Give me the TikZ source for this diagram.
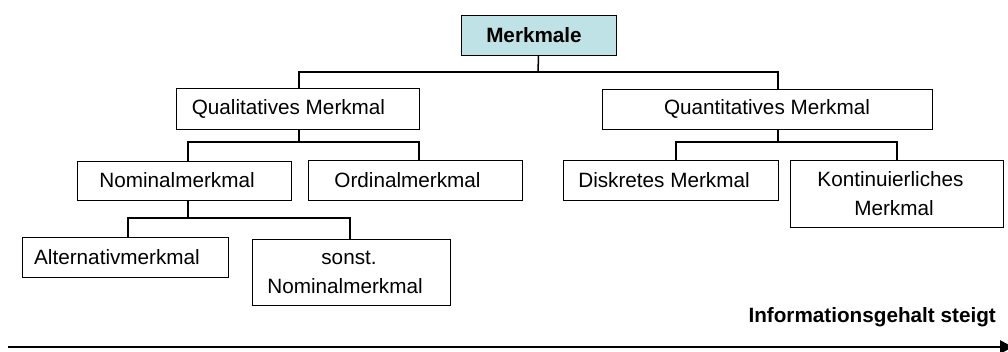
\documentclass[tikz,border=0pt]{standalone}
\usepackage{fontspec}
\setmainfont{Liberation Sans}
\usetikzlibrary{arrows.meta}
\definecolor{headfill}{RGB}{190,226,229}
% moves a centred line of text to the left by half the given amount
\newcommand{\nudgeleft}[1]{\hspace*{-#1pt}}
\begin{document}
\begin{tikzpicture}[x=1pt,y=-1pt,
  box/.style={draw=black, line width=0.9pt, fill=white, inner sep=0pt,
    font=\fontsize{20.7}{29}\selectfont, align=center},
  link/.style={draw=black, line width=1.5pt},
  axis/.style={draw=black, line width=2.6pt, -{Triangle[length=13pt,width=13pt]}}]
\useasboundingbox (0,0) rectangle (1008,351);

% boxes
\node[box, fill=headfill, minimum width=155pt, minimum height=40pt,
  font=\fontsize{20.7}{29}\selectfont\bfseries] (merk) at (538.5,35) {\nudgeleft{9}Merkmale};
\node[box, minimum width=243pt, minimum height=41pt] (qual) at (297.5,108.5) {\nudgeleft{18}Qualitatives Merkmal};
\node[box, minimum width=330pt, minimum height=40pt] (quant) at (767,109) {Quantitatives Merkmal};
\node[box, minimum width=214pt, minimum height=39pt] (nom) at (184,180.5) {\nudgeleft{14}Nominalmerkmal};
\node[box, minimum width=214pt, minimum height=40pt] (ord) at (415,180) {\nudgeleft{15}Ordinalmerkmal};
\node[box, minimum width=215pt, minimum height=40pt] (disk) at (670.5,180) {\nudgeleft{13}Diskretes Merkmal};
\node[box, minimum width=213pt, minimum height=67pt] (kont) at (896.5,193.5) {\nudgeleft{12}Kontinuierliches\\\nudgeleft{5}Merkmal};
\node[box, minimum width=206pt, minimum height=40pt] (alt) at (125,257) {\nudgeleft{16}Alternativmerkmal};
\node[box, minimum width=198pt, minimum height=66pt] (sonst) at (351,272) {\nudgeleft{4}sonst.\\\nudgeleft{12}Nominalmerkmal};

% junction points of the tree branches
\coordinate (j0) at (538,72);
\coordinate (jl) at (299,72);
\coordinate (jr) at (778,72);
\coordinate (jql) at (188,142);
\coordinate (jqr) at (419,142);
\coordinate (jnl) at (676,142);
\coordinate (jnr) at (897,142);
\coordinate (jal) at (128,218);
\coordinate (jar) at (350,218);

% connectors
\draw[link] (merk.south) -- (j0);
\draw[link] (jl |- qual.north) -- (jl) -- (jr) -- (jr |- quant.north);
\draw[link] (jl |- qual.south) -- (jl |- jql);
\draw[link] (jql |- nom.north) -- (jql) -- (jqr) -- (jqr |- ord.north);
\draw[link] (jr |- quant.south) -- (jr |- jnl);
\draw[link] (jnl |- disk.north) -- (jnl) -- (jnr) -- (jnr |- kont.north);
\draw[link] (jql |- nom.south) -- (jql |- jal);
\draw[link] (jal |- alt.north) -- (jal) -- (jar) -- (jar |- sonst.north);

% information axis
\coordinate (axstart) at (8,347);
\coordinate (axend) at (1013,347);
\draw[axis] (axstart) -- (axend);
\node[anchor=base east, inner sep=0pt, font=\fontsize{20.7}{25}\selectfont\bfseries]
  (info) at (996,322) {Informationsgehalt steigt};
\end{tikzpicture}
\end{document}
